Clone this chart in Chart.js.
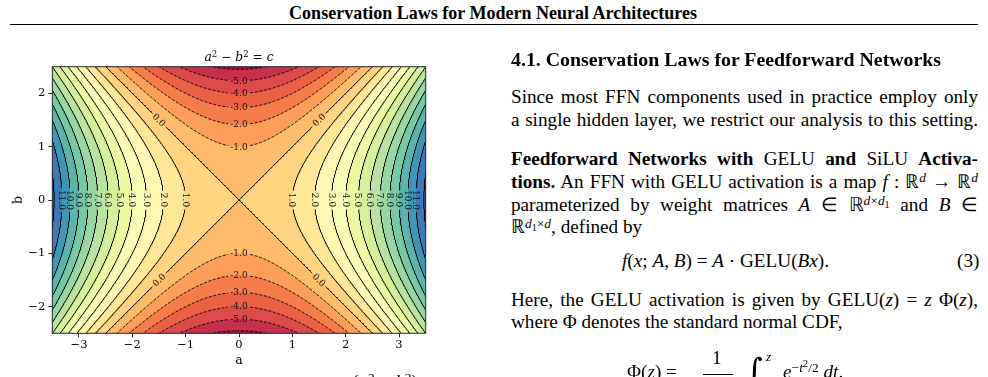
<!DOCTYPE html>
<html><head><meta charset="utf-8">
<script src="https://cdn.jsdelivr.net/npm/chart.js@4.4.1/dist/chart.umd.min.js"></script>
<style>
html,body{margin:0;padding:0;background:#fff;}
body{width:988px;height:377px;overflow:hidden;position:relative;font-family:'Liberation Serif','Times New Roman',serif;color:#000;font-size:19.2px;}
.a{position:absolute;white-space:nowrap;line-height:1;}
sup,sub{line-height:0;font-size:0.7em;}
sup{vertical-align:0.42em;} sub{vertical-align:-0.25em;}
sup sub{font-size:0.75em;}
.dv{font-family:'DejaVu Serif',serif;}
#chartbox{position:absolute;left:0;top:40px;width:460px;height:337px;}
</style></head>
<body>
<div class="a" data-b="19" data-cx="493" data-fw="408" style="font-weight:bold;font-size:16px">Conservation Laws for Modern Neural Architectures</div>
<div style="position:absolute;left:10px;top:23.5px;width:968px;height:1.5px;background:#000"></div>

<div id="chartbox"><canvas id="c" width="460" height="337"></canvas></div>
<div class="a dv" data-b="61" data-cx="239" data-fw="69" style="font-size:12px"><i>a</i><sup>2</sup> − <i>b</i><sup>2</sup> = <i>c</i></div>
<div class="a dv" data-b="364" data-cx="239" style="font-size:12.5px">a</div>
<div class="dv" style="position:absolute;left:18px;top:200px;transform:translate(-50%,-50%) rotate(-90deg);font-size:12.5px;line-height:1">b</div>
<div class="a" data-b="388" style="left:352px">(<i>a</i><sup>2</sup> − <i>b</i><sup>2</sup>)</div>

<div class="a" data-b="67" data-fw="430" style="left:511px;font-weight:bold">4.1. Conservation Laws for Feedforward Networks</div>
<div class="a j" data-b="103.3" style="left:511px">Since most FFN components used in practice employ only</div>
<div class="a j" data-b="126" style="left:511px">a single hidden layer, we restrict our analysis to this setting.</div>
<div class="a j" data-b="165" style="left:511px"><b>Feedforward Networks with</b> GELU <b>and</b> SiLU <b>Activa-</b></div>
<div class="a j" data-b="187.8" style="left:511px"><b>tions.</b> An FFN with GELU activation is a map <i>f</i> : ℝ<sup><i>d</i></sup> → ℝ<sup><i>d</i></sup></div>
<div class="a j" data-b="210.6" style="left:511px">parameterized by weight matrices <i>A</i> ∈ ℝ<sup><i>d</i>×<i>d</i><sub>1</sub></sup> and <i>B</i> ∈</div>
<div class="a" data-b="233.4" style="left:511px">ℝ<sup><i>d</i><sub>1</sub>×<i>d</i></sup>, defined by</div>
<div class="a" data-b="267" style="left:622px"><i>f</i>(<i>x</i>; <i>A</i>, <i>B</i>) = <i>A</i> · GELU(<i>Bx</i>).</div>
<div class="a" data-b="267" style="left:957px">(3)</div>
<div class="a j" data-b="306.5" style="left:511px">Here, the GELU activation is given by GELU(<i>z</i>) = <i>z</i> Φ(<i>z</i>),</div>
<div class="a" data-b="328.5" style="left:511px">where Φ denotes the standard normal CDF,</div>
<div class="a" data-b="378" style="left:627px">Φ(<i>z</i>) =</div>
<div class="a" data-b="364.5" style="left:712px">1</div>
<div style="position:absolute;left:703px;top:374px;width:30px;height:1px;background:#000"></div>
<div class="a dv" data-b="381" style="left:746px;font-size:32px">∫</div>
<div class="a" data-b="361" style="left:766px;font-size:13.5px"><i>z</i></div>
<div class="a" data-b="378" style="left:783px"><i>e</i><sup>−<i>t</i><sup style="font-size:0.8em">2</sup>/2</sup> <i>dt</i>.</div>

<script>
// ---------------- data ----------------
const aRange = [-3.5, 3.5];
const bRange = [-2.5, 2.5];
const aTicks = [-3, -2, -1, 0, 1, 2, 3];
const bTicks = [-2, -1, 0, 1, 2];
const contourLevels = [-6, -5, -4, -3, -2, -1, 0, 1, 2, 3, 4, 5, 6, 7, 8, 9, 10, 11, 12];
const labeledLevels = [-5, -4, -3, -2, -1, 0, 1, 2, 3, 4, 5, 6, 7, 8, 9, 10, 11];
const fillLevels = [-7, -6, -5, -4, -3, -2, -1, 0, 1, 2, 3, 4, 5, 6, 7, 8, 9, 10, 11, 12, 13];
// surface plotted: c = a^2 - b^2
function surface(a, b) { return a * a - b * b; }

// ---------------- style ----------------
const SPECTRAL = ['#9e0142','#d53e4f','#f46d43','#fdae61','#fee08b','#ffffbf','#e6f598','#abdda4','#66c2a5','#3288bd','#5e4fa2'];
const FONT = "'DejaVu Serif',serif";
const LABEL_SIZE = 9;
function hex(h){return [parseInt(h.slice(1,3),16),parseInt(h.slice(3,5),16),parseInt(h.slice(5,7),16)];}
function cmap(t){t=Math.min(1,Math.max(0,t));const n=SPECTRAL.length-1;const p=t*n;const i=Math.min(Math.floor(p),n-1);const f=p-i;const c0=hex(SPECTRAL[i]),c1=hex(SPECTRAL[i+1]);return c0.map((v,k)=>Math.round(v+(c1[k]-v)*f));}
const vmin = fillLevels[0], vmax = fillLevels[fillLevels.length-1];
const bandRGB = [];
for (let k=0;k<fillLevels.length-1;k++){ const mid=(fillLevels[k]+fillLevels[k+1])/2; bandRGB.push(cmap((mid-vmin)/(vmax-vmin))); }

// ---------------- geometry of contour curves ----------------
function branchesFor(c){
  const n = 500, out = [];
  for (const s of [-1, 1]) {
    const pts = [];
    for (let i=0;i<=n;i++){
      if (c > 0) { const b = bRange[0] + (bRange[1]-bRange[0])*i/n; pts.push({x: s*Math.sqrt(c + b*b), y: b}); }
      else if (c < 0) { const a = aRange[0] + (aRange[1]-aRange[0])*i/n; pts.push({x: a, y: s*Math.sqrt(a*a - c)}); }
      else { const a = aRange[0] + (aRange[1]-aRange[0])*i/n; pts.push({x: a, y: s*a}); }
    }
    out.push(pts);
  }
  return out;
}
const mctx = document.createElement('canvas').getContext('2d');
mctx.font = LABEL_SIZE + 'px ' + FONT;
function labelText(c){ return c.toFixed(1); }
function labelAnchors(c){
  if (!labeledLevels.includes(c)) return [];
  const r = mctx.measureText(labelText(c)).width/2 + 2.5;
  let arr;
  if (c > 0) arr = [{a:-Math.sqrt(c), b:0, rot:90},{a:Math.sqrt(c), b:0, rot:90}];
  else if (c < 0) arr = [{a:0, b:Math.sqrt(-c), rot:0},{a:0, b:-Math.sqrt(-c), rot:0}];
  else arr = [{a:-1.5,b:1.5,rot:45},{a:1.5,b:1.5,rot:-45},{a:-1.5,b:-1.5,rot:-45},{a:1.5,b:-1.5,rot:45}];
  arr.forEach(o=>{o.r=r;o.text=labelText(c);});
  return arr;
}

let chartRef = null;
function inGap(sc){
  const ch = chartRef; if (!ch) return false;
  const ds = ch.data.datasets[sc.datasetIndex];
  const mx = (sc.p0.x + sc.p1.x)/2, my = (sc.p0.y + sc.p1.y)/2;
  for (const L of ds.labelPts){
    const px = ch.scales.x.getPixelForValue(L.a), py = ch.scales.y.getPixelForValue(L.b);
    if (Math.hypot(mx-px, my-py) < L.r) return true;
  }
  return false;
}

const datasets = [];
contourLevels.forEach(c=>{
  const labs = labelAnchors(c);
  branchesFor(c).forEach(pts=>{
    datasets.push({
      label: 'c=' + c,
      data: pts,
      showLine: true,
      pointRadius: 0, pointHoverRadius: 0,
      borderColor: '#000',
      borderWidth: 1,
      borderDash: c < 0 ? [3, 1.6] : [],
      tension: 0,
      clip: 0,
      labelPts: labs,
      segment: { borderColor: sc => inGap(sc) ? 'rgba(0,0,0,0)' : '#000' }
    });
  });
});

const refPlugin = { id:'ref', beforeInit(chart){ chartRef = chart; } };
const fillPlugin = { id:'fillc', beforeDatasetsDraw(chart){
  const {ctx, chartArea:ca, scales:{x, y}} = chart;
  const x0=Math.floor(ca.left), y0=Math.floor(ca.top), x1=Math.ceil(ca.right), y1=Math.ceil(ca.bottom);
  const w=x1-x0, h=y1-y0;
  const off=document.createElement('canvas'); off.width=w; off.height=h;
  const octx=off.getContext('2d'); const img=octx.createImageData(w,h);
  for (let j=0;j<h;j++){
    const b=y.getValueForPixel(y0+j+0.5);
    for (let i=0;i<w;i++){
      const a=x.getValueForPixel(x0+i+0.5);
      const z=surface(a,b);
      let k=0; while(k<fillLevels.length-2 && z>=fillLevels[k+1]) k++;
      const col=bandRGB[k]; const p=(j*w+i)*4;
      img.data[p]=col[0]; img.data[p+1]=col[1]; img.data[p+2]=col[2]; img.data[p+3]=255;
    }
  }
  octx.putImageData(img,0,0);
  ctx.save(); ctx.beginPath(); ctx.rect(ca.left,ca.top,ca.right-ca.left,ca.bottom-ca.top); ctx.clip();
  ctx.drawImage(off,x0,y0); ctx.restore();
}};
const labelPlugin = { id:'clabels', afterDatasetsDraw(chart){
  const {ctx, chartArea:ca, scales:{x, y}} = chart;
  ctx.save();
  ctx.font = LABEL_SIZE + 'px ' + FONT;
  ctx.fillStyle = '#111'; ctx.textAlign='center'; ctx.textBaseline='middle';
  const seen = new Set();
  chart.data.datasets.forEach(ds=>{
    ds.labelPts.forEach(L=>{
      const key=L.a+','+L.b; if (seen.has(key)) return; seen.add(key);
      ctx.save(); ctx.translate(x.getPixelForValue(L.a), y.getPixelForValue(L.b));
      ctx.rotate(L.rot*Math.PI/180); ctx.fillText(L.text, 0, 0.5); ctx.restore();
    });
  });
  ctx.strokeStyle='#262626'; ctx.lineWidth=1;
  ctx.strokeRect(ca.left, ca.top, ca.right-ca.left, ca.bottom-ca.top);
  ctx.restore();
}};

function fmt(v){ return v < 0 ? '\u2212' + Math.abs(v) : String(v); }
const tickFont = {family: FONT, size: 11.5};
new Chart(document.getElementById('c'), {
  type: 'scatter',
  data: { datasets },
  plugins: [refPlugin, fillPlugin, labelPlugin],
  options: {
    responsive: false, animation: false, devicePixelRatio: 1, events: [],
    layout: { padding: { left: 0, right: 34.3, top: 26.7, bottom: 0 } },
    plugins: { legend: {display:false}, tooltip: {enabled:false}, title: {display:false} },
    scales: {
      x: { type:'linear', min: aRange[0], max: aRange[1],
        afterBuildTicks: s => { s.ticks = aTicks.map(v=>({value:v})); },
        afterFit: s => { s.height = 43.7; },
        grid: { display:true, drawOnChartArea:false, drawTicks:true, tickLength:4, color:'#262626', tickWidth:1 },
        border: { display:false },
        ticks: { font: tickFont, color:'#000', padding:1, maxRotation:0, autoSkip:false, callback: v => fmt(v) } },
      y: { type:'linear', min: bRange[0], max: bRange[1],
        afterBuildTicks: s => { s.ticks = bTicks.map(v=>({value:v})); },
        afterFit: s => { s.width = 52.3; },
        grid: { display:true, drawOnChartArea:false, drawTicks:true, tickLength:4, color:'#262626', tickWidth:1 },
        border: { display:false },
        ticks: { font: tickFont, color:'#000', padding:3, autoSkip:false, callback: v => fmt(v) } }
    }
  }
});

// ---------------- text layout helpers ----------------
document.querySelectorAll('[data-fw]').forEach(el=>{
  const fs=parseFloat(getComputedStyle(el).fontSize); const w=el.getBoundingClientRect().width;
  el.style.fontSize=(fs*parseFloat(el.dataset.fw)/w)+'px';
});
document.querySelectorAll('.j').forEach(el=>{
  const left=parseFloat(el.style.left); const target=978-left;
  const w=el.getBoundingClientRect().width;
  const n=el.textContent.trim().split(/\s+/).length-1;
  if(n>0) el.style.wordSpacing=((target-w)/n)+'px';
});
document.querySelectorAll('[data-b]').forEach(el=>{
  const fs=parseFloat(getComputedStyle(el).fontSize);
  el.style.top=(parseFloat(el.dataset.b)-0.8375*fs)+'px';
  if (el.dataset.cx){ const w=el.getBoundingClientRect().width; el.style.left=(parseFloat(el.dataset.cx)-w/2)+'px'; }
});
</script>
</body></html>
